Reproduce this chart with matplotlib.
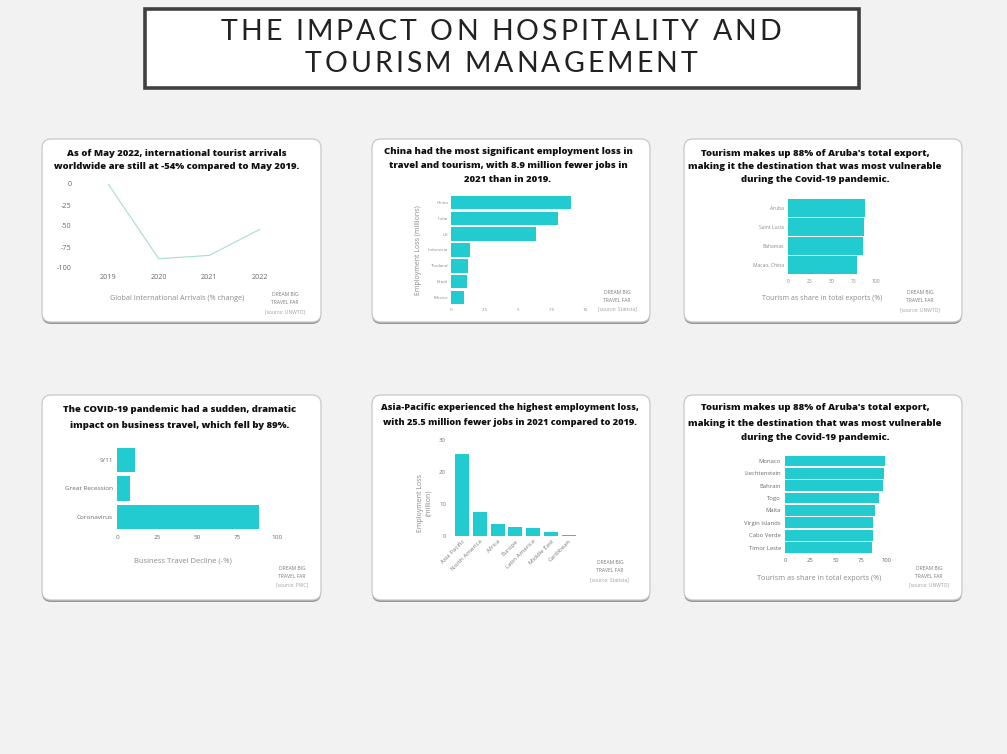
import matplotlib.pyplot as plt
from matplotlib.patches import FancyBboxPatch, Rectangle
from matplotlib.font_manager import FontProperties

W, H = 1007, 754

# ---- data ----
arrival_years = [2019, 2020, 2021, 2022]
arrival_change = [0, -89, -85, -54]

country_names = ['China', 'India', 'US', 'Indonesia', 'Thailand', 'Brazil', 'Mexico']
country_loss = [8.9, 8.0, 6.3, 1.4, 1.3, 1.2, 1.0]

export_names_a = ['Aruba', 'Saint Lucia', 'Bahamas', 'Macao, China']
export_share_a = [88, 86, 85, 78]

business_events = ['9/11', 'Great Recession', 'Coronavirus']
business_decline = [11, 8, 89]

region_names = ['Asia Pacific', 'North America', 'Africa', 'Europe',
                'Latin America', 'Middle East', 'Caribbean']
region_loss = [25.5, 7.4, 3.8, 2.9, 2.6, 1.1, 0.3]

export_names_b = ['Monaco', 'Liechtenstein', 'Bahrain', 'Togo', 'Malta',
                  'Virgin Islands', 'Cabo Verde', 'Timor Leste']
export_share_b = [99, 98, 97, 93, 89, 87, 87, 86]

TEAL = '#22cbd0'
GREY = '#6a6a6a'
FONT = ['Open Sans', 'DejaVu Sans']

plt.rcParams['font.family'] = FONT
plt.rcParams['axes.unicode_minus'] = False

fig = plt.figure(figsize=(W / 100, H / 100), dpi=100)
fig.patch.set_facecolor('#f2f2f2')

bg = fig.add_axes([0, 0, 1, 1])
bg.set_xlim(0, W)
bg.set_ylim(H, 0)
bg.axis('off')
renderer = fig.canvas.get_renderer()


def axes_px(x0, y0, x1, y1):
    # axes placed by pixel box (top-left origin)
    ax = fig.add_axes([x0 / W, 1 - y1 / H, (x1 - x0) / W, (y1 - y0) / H])
    ax.set_facecolor('none')
    for s in ax.spines.values():
        s.set_visible(False)
    ax.tick_params(length=0, labelsize=4.5, colors=GREY, pad=2)
    return ax


def card(x0, y0, x1, y1):
    shadow = FancyBboxPatch((x0, y0 + 2), x1 - x0, y1 - y0,
                            boxstyle='round,pad=0,rounding_size=9',
                            fc='#969696', ec='none', zorder=1)
    face = FancyBboxPatch((x0, y0), x1 - x0, y1 - y0,
                          boxstyle='round,pad=0,rounding_size=9',
                          fc='white', ec='#c8c8c8', lw=0.9, zorder=2)
    bg.add_patch(shadow)
    bg.add_patch(face)


def spaced_text(cx, cy, s, size, track):
    # draw letters one by one so the title gets its wide letter spacing
    fp = FontProperties(family=['Lato', 'DejaVu Sans'], size=size)
    widths = []
    for ch in s:
        if ch == ' ':
            w = renderer.get_text_width_height_descent('a a', fp, ismath=False)[0] - \
                renderer.get_text_width_height_descent('aa', fp, ismath=False)[0]
        else:
            w = renderer.get_text_width_height_descent(ch, fp, ismath=False)[0]
        widths.append(w)
    total = sum(widths) + track * (len(s) - 1)
    x = cx - total / 2
    for ch, w in zip(s, widths):
        if ch != ' ':
            bg.text(x, cy, ch, ha='left', va='center', fontproperties=fp,
                    color='#222222', zorder=5)
        x += w + track


def card_title(lines, cx, y_first, step, size=6.8):
    for i, line in enumerate(lines):
        bg.text(cx, y_first + i * step, line, ha='center', va='center',
                fontsize=size, weight='heavy', color='#111111', zorder=5)


def footer(cx, y_first, source):
    bg.text(cx, y_first, 'DREAM BIG', ha='center', va='center', fontsize=3.6,
            color='#7a7a7a', zorder=5)
    bg.text(cx, y_first + 8, 'TRAVEL FAR', ha='center', va='center', fontsize=3.6,
            color='#7a7a7a', zorder=5)
    bg.text(cx, y_first + 17, source, ha='center', va='center', fontsize=3.6,
            color='#a0a0a0', zorder=5)


def axis_text(x, y, s, rot=0, size=5.2):
    bg.text(x, y, s, ha='center', va='center', fontsize=size, color='#8a8a8a',
            rotation=rot, zorder=5)


# ---- slide title ----
bg.add_patch(Rectangle((145, 9), 714, 79, fc='white', ec='#404040', lw=2.6, zorder=2))
spaced_text(501, 32, 'THE IMPACT ON HOSPITALITY AND', 20.5, 3.0)
spaced_text(501, 64, 'TOURISM MANAGEMENT', 20.5, 3.0)

# ---- cards ----
card(42, 139, 321, 322)
card(372, 139, 650, 322)
card(684, 139, 962, 322)
card(42, 395, 321, 600)
card(372, 395, 650, 600)
card(684, 395, 962, 600)

# 1: international arrivals line
card_title(['As of May 2022, international tourist arrivals',
            'worldwide are still at -54% compared to May 2019.'], 177, 153, 13.5)
ax1 = axes_px(88, 184, 280, 268)
ax1.plot(arrival_years, arrival_change, color='#a6ddd2', lw=0.8)
ax1.set_xlim(2018.6, 2022.4)
ax1.set_ylim(-100, 0)
ax1.set_xticks(arrival_years)
ax1.set_yticks([0, -25, -50, -75, -100])
ax1.tick_params(labelsize=5.2, pad=4)
ax1.tick_params(axis='y', pad=12)
axis_text(177, 299, 'Global International Arrivals (% change)')
footer(285, 295, '[source: UNWTO]')

# 2: employment loss by country
card_title(['China had the most significant employment loss in',
            'travel and tourism, with 8.9 million fewer jobs in',
            '2021 than in 2019.'], 508, 151, 14)
ax2 = axes_px(451, 194.6, 592, 305.4)
ax2.barh(range(len(country_names)), country_loss, height=0.85, color=TEAL)
ax2.set_yticks(range(len(country_names)))
ax2.set_yticklabels(country_names)
ax2.set_ylim(len(country_names) - 0.5, -0.5)
ax2.set_xlim(0, 10.5)
ax2.set_xticks([0, 2.5, 5, 7.5, 10])
ax2.set_xticklabels(['0', '2.5', '5', '7.5', '10'])
ax2.tick_params(labelsize=3.2, colors='#8a8a8a')
axis_text(419, 250, 'Employment Loss (millions)', rot=90, size=5)
footer(617, 292, '[source: Statista]')

# 3: tourism share of exports, top 4
card_title(["Tourism makes up 88% of Aruba's total export,",
            'making it the destination that was most vulnerable',
            'during the Covid-19 pandemic.'], 815, 153, 13.5)
ax3 = axes_px(788, 198.5, 876, 274.5)
ax3.barh(range(len(export_names_a)), export_share_a, height=0.93, color=TEAL)
ax3.set_yticks(range(len(export_names_a)))
ax3.set_yticklabels(export_names_a)
ax3.set_ylim(len(export_names_a) - 0.5, -0.5)
ax3.set_xlim(0, 100)
ax3.set_xticks([0, 25, 50, 75, 100])
ax3.tick_params(labelsize=3.6, colors='#8a8a8a', pad=3)
axis_text(822, 298, 'Tourism as share in total exports (%)', size=5)
footer(920, 293, '[source: UNWTO]')

# 4: business travel decline
card_title(['The COVID-19 pandemic had a sudden, dramatic',
            'impact on business travel, which fell by 89%.'], 180, 410, 16)
ax4 = axes_px(117, 445.75, 277, 531.25)
ax4.barh(range(len(business_events)), business_decline, height=0.86, color=TEAL)
ax4.set_yticks(range(len(business_events)))
ax4.set_yticklabels(business_events)
ax4.set_ylim(len(business_events) - 0.5, -0.5)
ax4.set_xlim(0, 100)
ax4.set_xticks([0, 25, 50, 75, 100])
ax4.tick_params(labelsize=4.6, pad=3)
axis_text(183, 561, 'Business Travel Decline (-%)', size=5.5)
footer(292, 568, '[source: PWC]')

# 5: employment loss by region
card_title(['Asia-Pacific experienced the highest employment loss,',
            'with 25.5 million fewer jobs in 2021 compared to 2019.'], 510, 408, 14.5, size=6.6)
ax5 = axes_px(453, 440, 577.8, 536)
ax5.bar(range(len(region_names)), region_loss, width=0.79, color=TEAL)
ax5.set_xlim(-0.5, len(region_names) - 0.5)
ax5.set_ylim(0, 30)
ax5.set_yticks([0, 10, 20, 30])
ax5.set_xticks(range(len(region_names)))
ax5.set_xticklabels(region_names, rotation=45, ha='right', rotation_mode='anchor')
ax5.tick_params(labelsize=4.4, colors='#7a7a7a')
ax5.tick_params(axis='y', pad=5)
axis_text(421, 503, 'Employment Loss', rot=90, size=5)
axis_text(429, 503, '(million)', rot=90, size=5)
footer(610, 563, '[source: Statista]')

# 6: tourism share of exports, top 8
card_title(["Tourism makes up 88% of Aruba's total export,",
            'making it the destination that was most vulnerable',
            'during the Covid-19 pandemic.'], 815, 408, 15)
ax6 = axes_px(785, 454.8, 886, 553.7)
ax6.barh(range(len(export_names_b)), export_share_b, height=0.87, color=TEAL)
ax6.set_yticks(range(len(export_names_b)))
ax6.set_yticklabels(export_names_b)
ax6.set_ylim(len(export_names_b) - 0.5, -0.5)
ax6.set_xlim(0, 100)
ax6.set_xticks([0, 25, 50, 75, 100])
ax6.tick_params(labelsize=4.2, pad=3)
axis_text(819, 578, 'Tourism as share in total exports (%)', size=5.2)
footer(929, 568, '[source: UNWTO]')

fig.savefig('out.png', dpi=100, facecolor=fig.get_facecolor())
